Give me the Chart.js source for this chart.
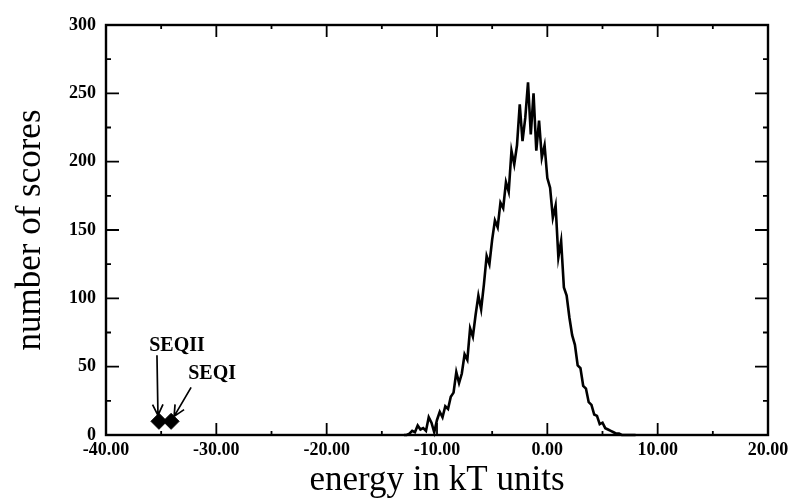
<!DOCTYPE html>
<html>
<head>
<meta charset="utf-8">
<script src="https://cdn.jsdelivr.net/npm/chart.js@4.4.1/dist/chart.umd.min.js"></script>
<style>
  html, body { margin: 0; padding: 0; background: #ffffff; }
  #wrap { width: 789px; height: 502px; }
</style>
</head>
<body>
<div id="wrap"><canvas id="c" width="789" height="502"></canvas></div>
<script>
// Histogram of scores: bin centres (kT) and counts per bin
const energies = [
  -13.0, -12.75, -12.5, -12.25, -12.0, -11.75, -11.5, -11.25, -11.0, -10.75,
  -10.5, -10.25, -10.0, -9.75, -9.5, -9.25, -9.0, -8.75, -8.5, -8.25,
  -8.0, -7.75, -7.5, -7.25, -7.0, -6.75, -6.5, -6.25, -6.0, -5.75,
  -5.5, -5.25, -5.0, -4.75, -4.5, -4.25, -4.0, -3.75, -3.5, -3.25,
  -3.0, -2.75, -2.5, -2.25, -2.0, -1.75, -1.5, -1.25, -1.0, -0.75,
  -0.5, -0.25, 0.0, 0.25, 0.5, 0.75, 1.0, 1.25, 1.5, 1.75,
  2.0, 2.25, 2.5, 2.75, 3.0, 3.25, 3.5, 3.75, 4.0, 4.25,
  4.5, 4.75, 5.0, 5.25, 5.5, 5.75, 6.0, 6.25, 6.5, 6.75,
  7.0, 7.5, 8.0
];
const counts = [
  0, 0, 1, 3, 2, 7, 4, 5, 3, 13,
  9, 2, 11, 17, 13, 21, 19, 28, 31, 46,
  38, 45, 59, 55, 78, 72, 88, 102, 92, 110,
  131, 125, 143, 157, 152, 170, 166, 185, 178, 208,
  198, 212, 242, 215, 232, 258, 220, 250, 208, 230,
  203, 212, 188, 181, 159, 168, 130, 142, 108, 102,
  86, 73, 66, 51, 49, 36, 34, 24, 22, 15,
  14, 8, 9, 5, 4, 3, 2, 1, 1, 0,
  0, 0, 0
];

// Scores of the two reference sequences
const seqNames = ['SEQII', 'SEQI'];
const seqEnergies = [-35.2, -34.1];
const seqCounts = [10, 10];

// Axis ranges and tick steps
const xRange = [-40, 20];
const yRange = [0, 300];
const xMajorStep = 10, xMinorStep = 5;
const yMajorStep = 50, yMinorStep = 25;

const serif = '"Liberation Serif", "Times New Roman", serif';

// Where each sequence label and arrow sit, in pixels relative to its marker
const callouts = [
  { label: [18, -76], from: [-2, -66], to: [-1, -6] },
  { label: [41, -48], from: [20, -34], to: [3, -5] }
];

const frameAndTicks = {
  id: 'frameAndTicks',
  afterDatasetsDraw(chart) {
    const { ctx, chartArea: a, scales: { x, y } } = chart;
    ctx.save();
    ctx.strokeStyle = '#000';
    ctx.lineCap = 'butt';
    // inward ticks on all four sides
    ctx.lineWidth = 1.8;
    ctx.beginPath();
    for (let v = yRange[0] + yMinorStep; v < yRange[1]; v += yMinorStep) {
      const py = y.getPixelForValue(v);
      const len = v % yMajorStep === 0 ? 13 : 5;
      ctx.moveTo(a.left, py); ctx.lineTo(a.left + len, py);
      ctx.moveTo(a.right, py); ctx.lineTo(a.right - len, py);
    }
    for (let v = xRange[0] + xMinorStep; v < xRange[1]; v += xMinorStep) {
      const px = x.getPixelForValue(v);
      const len = v % xMajorStep === 0 ? 12 : 4;
      ctx.moveTo(px, a.bottom); ctx.lineTo(px, a.bottom - len);
      ctx.moveTo(px, a.top); ctx.lineTo(px, a.top + len);
    }
    ctx.stroke();
    // frame
    ctx.lineWidth = 2.4;
    ctx.strokeRect(a.left, a.top, a.right - a.left, a.bottom - a.top);

    // sequence labels with arrows
    ctx.fillStyle = '#000';
    ctx.font = 'bold 20px ' + serif;
    ctx.textAlign = 'center';
    ctx.textBaseline = 'middle';
    ctx.lineWidth = 1.7;
    seqNames.forEach((name, i) => {
      const mx = x.getPixelForValue(seqEnergies[i]);
      const my = y.getPixelForValue(seqCounts[i]);
      const c = callouts[i];
      ctx.fillText(name, mx + c.label[0], my + c.label[1]);
      const x0 = mx + c.from[0], y0 = my + c.from[1];
      const x1 = mx + c.to[0], y1 = my + c.to[1];
      ctx.beginPath();
      ctx.moveTo(x0, y0); ctx.lineTo(x1, y1);
      const ang = Math.atan2(y1 - y0, x1 - x0);
      const head = 12, spread = 0.45;
      ctx.moveTo(x1, y1);
      ctx.lineTo(x1 - head * Math.cos(ang - spread), y1 - head * Math.sin(ang - spread));
      ctx.moveTo(x1, y1);
      ctx.lineTo(x1 - head * Math.cos(ang + spread), y1 - head * Math.sin(ang + spread));
      ctx.stroke();
    });
    ctx.restore();
  }
};

new Chart(document.getElementById('c'), {
  type: 'scatter',
  data: {
    datasets: [
      {
        type: 'line',
        data: energies.map((e, i) => ({ x: e, y: counts[i] })),
        borderColor: '#000',
        borderWidth: 2.6,
        pointRadius: 0,
        tension: 0,
        fill: false,
        clip: false
      },
      {
        data: seqEnergies.map((e, i) => ({ x: e, y: seqCounts[i] })),
        pointStyle: 'rectRot',
        pointRadius: 8,
        backgroundColor: '#000',
        borderColor: '#000',
        borderWidth: 1,
        clip: false
      }
    ]
  },
  options: {
    responsive: false,
    animation: false,
    events: [],
    layout: { padding: { top: 25, right: 21, left: 0, bottom: 0 } },
    plugins: { legend: { display: false }, tooltip: { enabled: false } },
    scales: {
      x: {
        type: 'linear',
        min: xRange[0], max: xRange[1],
        grid: { display: false, drawTicks: false },
        border: { display: false },
        ticks: {
          stepSize: xMajorStep,
          padding: 5,
          maxRotation: 0,
          color: '#000',
          font: { family: serif, size: 18, weight: 'bold' },
          callback: v => v.toFixed(2)
        },
        title: {
          display: true,
          text: 'energy in kT units',
          color: '#000',
          font: { family: serif, size: 35 },
          padding: { top: 0, bottom: 0 }
        },
        afterFit(s) { s.height = 67; s.paddingLeft = 0; s.paddingRight = 0; }
      },
      y: {
        min: yRange[0], max: yRange[1],
        grid: { display: false, drawTicks: false },
        border: { display: false },
        ticks: {
          stepSize: yMajorStep,
          padding: 10,
          color: '#000',
          font: { family: serif, size: 18, weight: 'bold' }
        },
        title: {
          display: true,
          text: 'number of scores',
          color: '#000',
          font: { family: serif, size: 35 },
          padding: { top: 10, bottom: 0 }
        },
        afterFit(s) { s.width = 106; s.paddingTop = 0; s.paddingBottom = 0; }
      }
    }
  },
  plugins: [frameAndTicks]
});
</script>
</body>
</html>
